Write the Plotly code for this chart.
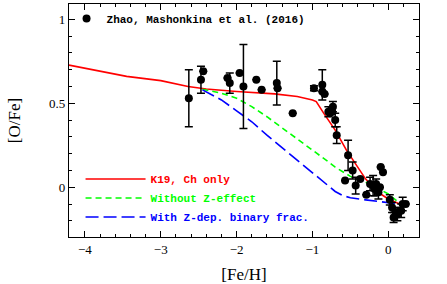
import plotly.graph_objects as go

# Observational data: Zhao, Mashonkina et al. (2016)
obs_feh = [-2.63, -2.47, -2.44, -2.12, -2.09, -1.96, -1.91, -1.74, -1.67, -1.47, -1.46, -1.26,
           -0.98, -0.87, -0.87, -0.84, -0.79, -0.77, -0.74, -0.73, -0.70, -0.68,
           -0.53, -0.57, -0.47, -0.43, -0.37, -0.29, -0.24, -0.20, -0.18, -0.16, -0.13,
           -0.11, -0.10, -0.07, 0.02, 0.05, 0.07, 0.10, 0.12, 0.17, 0.19, 0.23]
obs_ofe = [0.53, 0.64, 0.69, 0.65, 0.62, 0.68, 0.60, 0.64, 0.58, 0.62, 0.59, 0.44,
           0.59, 0.61, 0.57, 0.555, 0.45, 0.44, 0.45, 0.48, 0.40, 0.31,
           0.19, 0.04, 0.10, 0.01, 0.05, -0.045, 0.02, 0.01, -0.01, 0.02, -0.03,
           0.00, 0.12, 0.09, -0.075, -0.12, -0.18, -0.15, -0.16, -0.14, -0.10, -0.10]
obs_err = [0.17, 0.08, 0.0, 0.0, 0.06, 0.0, 0.25, 0.0, 0.0, 0.13, 0.0, 0.0,
           0.015, 0.09, 0.0, 0.0, 0.03, 0.0, 0.0, 0.03, 0.04, 0.05,
           0.09, 0.0, 0.05, 0.05, 0.0, 0.0, 0.04, 0.06, 0.04, 0.03, 0.04,
           0.0, 0.0, 0.0, 0.03, 0.03, 0.03, 0.03, 0.04, 0.04, 0.04, 0.0]

# Model: K19, Ch only
k19_feh = [-4.21, -3.9, -3.45, -3.0, -2.64, -2.4, -2.0, -1.5, -1.2, -1.0, -0.95,
           -0.85, -0.7, -0.55, -0.4, -0.3, -0.2, -0.1, 0.0, 0.15]
k19_ofe = [0.727, 0.70, 0.66, 0.635, 0.60, 0.585, 0.57, 0.556, 0.54, 0.52, 0.51,
           0.44, 0.34, 0.22, 0.12, 0.05, 0.0, -0.04, -0.07, -0.10]

# Model: without Z-effect
noz_feh = [-2.45, -2.2, -2.0, -1.8, -1.6, -1.4, -1.2, -1.0, -0.8, -0.7, -0.6,
           -0.5, -0.4, -0.3, -0.2, 0.0, 0.15]
noz_ofe = [0.583, 0.56, 0.53, 0.48, 0.42, 0.355, 0.285, 0.22, 0.155, 0.12, 0.09,
           0.065, 0.045, 0.03, 0.01, -0.04, -0.095]

# Model: with Z-dependent binary fraction
zb_feh = [-2.45, -2.2, -2.0, -1.8, -1.6, -1.4, -1.2, -1.0, -0.8, -0.7, -0.6,
          -0.5, -0.3, 0.0, 0.15]
zb_ofe = [0.58, 0.52, 0.455, 0.39, 0.31, 0.235, 0.16, 0.09, 0.015, -0.025, -0.05,
          -0.062, -0.075, -0.09, -0.10]

LEG_FONT = dict(family="Liberation Mono", size=11, color="black")

fig = go.Figure()

fig.add_trace(go.Scatter(
    x=k19_feh, y=k19_ofe, mode="lines", line=dict(color="#ff0000", width=1.6),
    name="<b><span style='color:#ff0000'>K19, Ch only</span></b>", legend="legend2"))
fig.add_trace(go.Scatter(
    x=noz_feh, y=noz_ofe, mode="lines", line=dict(color="#00ff00", width=1.6, dash="6px,4px"),
    name="<b><span style='color:#00ff00'>Without Z-effect</span></b>", legend="legend2"))
fig.add_trace(go.Scatter(
    x=zb_feh, y=zb_ofe, mode="lines", line=dict(color="#0000ff", width=1.6, dash="13px,5px"),
    name="<b><span style='color:#0000ff'>With Z-dep. binary frac.</span></b>", legend="legend2"))

fig.add_trace(go.Scatter(
    x=obs_feh, y=obs_ofe, mode="markers",
    marker=dict(color="black", size=8),
    error_y=dict(type="data", array=obs_err, visible=True, color="black", thickness=1.5, width=4),
    name="<b>Zhao, Mashonkina et al. (2016)</b>", legend="legend"))

axis_common = dict(
    showline=True, linecolor="black", linewidth=1.3, mirror="ticks",
    ticks="inside", ticklen=6, tickwidth=1, tickcolor="black",
    showgrid=False, zeroline=False, automargin=False,
    tickfont=dict(family="Liberation Serif", size=13, color="black"),
)

fig.update_xaxes(
    range=[-4.21, 0.405], dtick=1, tick0=0,
    minor=dict(dtick=0.2, ticklen=3, ticks="inside", tickcolor="black", showgrid=False),
    title=dict(text="[Fe/H]", font=dict(family="Liberation Serif", size=17, color="black"), standoff=13),
    **axis_common)
fig.update_yaxes(
    range=[-0.296, 1.091], dtick=0.5, tick0=0,
    minor=dict(dtick=0.1, ticklen=3, ticks="inside", tickcolor="black", showgrid=False),
    title=dict(text="[O/Fe]", font=dict(family="Liberation Serif", size=17, color="black"), standoff=24),
    **axis_common)

fig.update_layout(
    width=447, height=284,
    margin=dict(l=69, r=28, t=4, b=47),
    plot_bgcolor="white", paper_bgcolor="white",
    showlegend=True,
    legend=dict(x=-0.007, y=1.0, xanchor="left", yanchor="top", bgcolor="rgba(0,0,0,0)",
                font=LEG_FONT, itemwidth=30, tracegroupgap=0),
    legend2=dict(x=0.033, y=0.311, xanchor="left", yanchor="top", bgcolor="rgba(0,0,0,0)",
                 font=LEG_FONT, itemwidth=60, tracegroupgap=0),
)

fig.write_html("out.html",
               config={"displayModeBar": False},
               post_script="document.body.style.margin='0';document.body.style.padding='0';")
